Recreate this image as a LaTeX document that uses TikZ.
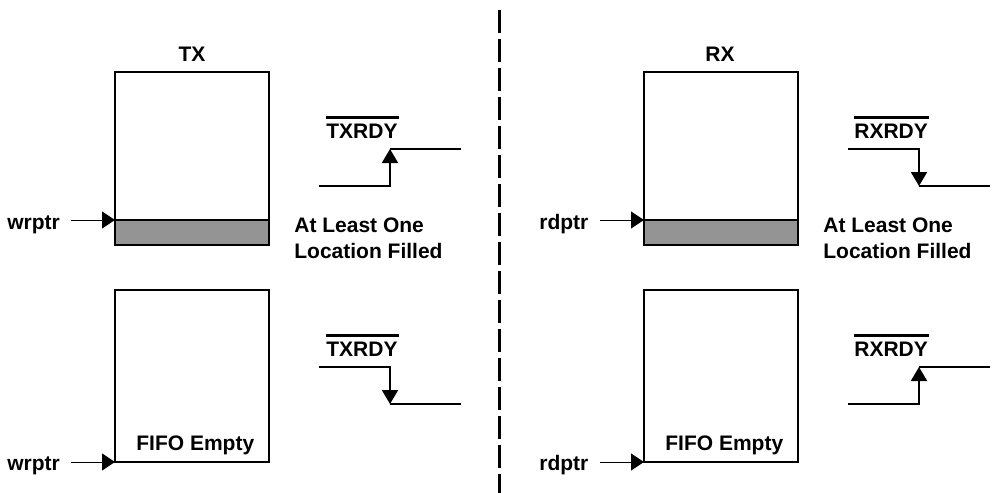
\documentclass[tikz,border=0pt]{standalone}
\usepackage{fontspec}
\setmainfont{Liberation Sans}
\usetikzlibrary{arrows.meta}
\begin{document}
\begin{tikzpicture}[x=0.5pt,y=-0.5pt,
  txt/.style={font=\fontsize{10.5pt}{12pt}\selectfont\bfseries, inner sep=0pt},
  fifo/.style={draw, line width=1pt, fill=white},
  band/.style={draw, line width=1pt, fill=black!42},
  ptrarrow/.style={line width=0.5pt, -{Triangle[length=6.5pt,width=8.5pt]}},
  sig/.style={line width=1pt},
  sigarrow/.style={line width=1pt, -{Triangle[length=7pt,width=8pt]}},
  ovl/.style={line width=1.5pt},
  divider/.style={line width=1.5pt, dash pattern=on 11.5pt off 3pt}
]
\useasboundingbox (0,0) rectangle (992,493);

% divider
\coordinate (dtop) at (499,9.5);
\coordinate (dbot) at (499,493);
\draw[divider] (dtop) -- (dbot);

% ================= TX =================
\node[txt, anchor=base] (txlbl) at (192,61) {TX};
% top FIFO
\draw[fifo] (115,72) rectangle (269,245);
\draw[band] (115,220) rectangle (269,245);
\coordinate (txtopin) at (115,220);
\node[txt, anchor=base west] (wr1) at (7,229) {wrptr};
\coordinate (wr1s) at (71,220);
\draw[ptrarrow] (wr1s) -- (txtopin);
\node[txt, anchor=base west] (al1) at (294,232) {At Least One};
\node[txt, anchor=base west] (lf1) at (294,258) {Location Filled};
% TXRDY rising
\node[txt, anchor=base west] (txr1) at (326,138) {TXRDY};
\draw[ovl] (326,117) -- (399,117);
\coordinate (a1) at (319,186);
\coordinate (a2) at (390,186);
\coordinate (a3) at (390,149);
\coordinate (a4) at (461,149);
\draw[sigarrow] (a1) -- (a2) -- (a3);
\draw[sig] (a3) -- (a4);

% bottom FIFO
\draw[fifo] (115,290) rectangle (269,462);
\node[txt, anchor=base west] (fe1) at (136,450) {FIFO Empty};
\coordinate (txbotin) at (115,462);
\node[txt, anchor=base west] (wr2) at (7,470) {wrptr};
\coordinate (wr2s) at (71,462);
\draw[ptrarrow] (wr2s) -- (txbotin);
% TXRDY falling
\node[txt, anchor=base west] (txr2) at (326,356) {TXRDY};
\draw[ovl] (326,335) -- (399,335);
\coordinate (b1) at (319,367);
\coordinate (b2) at (390,367);
\coordinate (b3) at (390,404);
\coordinate (b4) at (461,404);
\draw[sigarrow] (b1) -- (b2) -- (b3);
\draw[sig] (b3) -- (b4);

% ================= RX =================
\node[txt, anchor=base] (rxlbl) at (720,61) {RX};
\draw[fifo] (644,72) rectangle (798,245);
\draw[band] (644,220) rectangle (798,245);
\coordinate (rxtopin) at (644,220);
\node[txt, anchor=base west] (rd1) at (539,229) {rdptr};
\coordinate (rd1s) at (600,220);
\draw[ptrarrow] (rd1s) -- (rxtopin);
\node[txt, anchor=base west] (al2) at (823,232) {At Least One};
\node[txt, anchor=base west] (lf2) at (823,258) {Location Filled};
% RXRDY falling
\node[txt, anchor=base west] (rxr1) at (854,138) {RXRDY};
\draw[ovl] (854,117) -- (929,117);
\coordinate (c1) at (848,149);
\coordinate (c2) at (919,149);
\coordinate (c3) at (919,186);
\coordinate (c4) at (990,186);
\draw[sigarrow] (c1) -- (c2) -- (c3);
\draw[sig] (c3) -- (c4);

% bottom FIFO
\draw[fifo] (644,290) rectangle (798,462);
\node[txt, anchor=base west] (fe2) at (665,450) {FIFO Empty};
\coordinate (rxbotin) at (644,462);
\node[txt, anchor=base west] (rd2) at (539,470) {rdptr};
\coordinate (rd2s) at (600,462);
\draw[ptrarrow] (rd2s) -- (rxbotin);
% RXRDY rising
\node[txt, anchor=base west] (rxr2) at (854,356) {RXRDY};
\draw[ovl] (854,335) -- (929,335);
\coordinate (d1) at (848,404);
\coordinate (d2) at (919,404);
\coordinate (d3) at (919,367);
\coordinate (d4) at (990,367);
\draw[sigarrow] (d1) -- (d2) -- (d3);
\draw[sig] (d3) -- (d4);
\end{tikzpicture}
\end{document}
